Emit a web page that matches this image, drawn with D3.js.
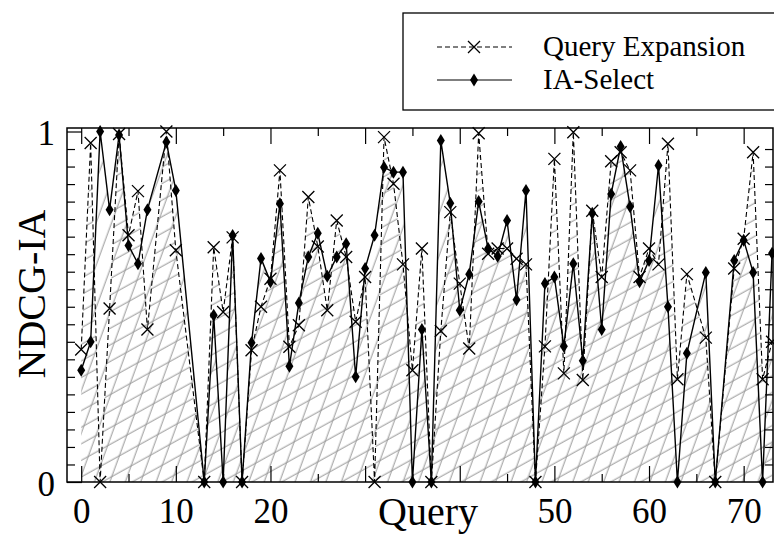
<!DOCTYPE html>
<html>
<head>
<meta charset="utf-8">
<script src="https://cdn.jsdelivr.net/npm/d3@7"></script>
<style>
  body { margin: 0; background: #fff; }
  svg { display: block; }
  text { font-family: "Liberation Serif", serif; fill: #000; }
</style>
</head>
<body>
<svg id="chart" width="774" height="536"></svg>
<script>
// query ids present in the run (some ids have no result)
const queries = [0, 1, 2, 3, 4, 5, 6, 7, 9, 10, 13, 14, 15, 16, 17, 18, 19, 20,
  21, 22, 23, 24, 25, 26, 27, 28, 29, 30, 31, 32, 33, 34, 35, 36, 37, 38, 39, 40,
  41, 42, 43, 44, 45, 46, 47, 48, 49, 50, 51, 52, 53, 54, 55, 56, 57, 58, 59, 60,
  61, 62, 63, 64, 66, 67, 69, 70, 71, 72, 73];

const queryExpansion = [0.378, 0.967, 0, 0.495, 0.993, 0.704, 0.83, 0.435, 1.0, 0.661,
  0, 0.67, 0.485, 0.698, 0, 0.376, 0.5, 0.58, 0.889, 0.386, 0.447, 0.813, 0.672, 0.49,
  0.746, 0.642, 0.457, 0.585, 0, 0.984, 0.851, 0.621, 0.319, 0.666, 0, 0.431, 0.77,
  0.566, 0.381, 0.995, 0.651, 0.666, 0.666, 0.637, 0.621, 0, 0.387, 0.922, 0.31, 0.998,
  0.291, 0.774, 0.585, 0.915, 0.941, 0.889, 0.585, 0.666, 0.621, 0.965, 0.293, 0.593,
  0.412, 0, 0.609, 0.694, 0.941, 0.293, 0.4];

const iaSelect = [0.319, 0.4, 1.0, 0.777, 0.99, 0.675, 0.623, 0.777, 0.97, 0.832,
  0, 0.476, 0, 0.703, 0, 0.397, 0.638, 0.571, 0.794, 0.33, 0.511, 0.642, 0.71, 0.587,
  0.642, 0.68, 0.3, 0.609, 0.704, 0.898, 0.884, 0.884, 0, 0.435, 0, 0.974, 0.795,
  0.49, 0.593, 0.8, 0.666, 0.644, 0.746, 0.52, 0.832, 0, 0.566, 0.585, 0.387, 0.623,
  0.346, 0.767, 0.435, 0.822, 0.957, 0.785, 0.571, 0.632, 0.903, 0.5, 0, 0.367,
  0.598, 0, 0.632, 0.69, 0.598, 0, 0.653];

const xMajorTicks = [0, 10, 20, 30, 40, 50, 60, 70];
const xLabelHidden = [30, 40]; // covered by the axis title
const yMajorTicks = [0, 1];

const svg = d3.select("#chart");

const plotLeft = 67, plotRight = 773, plotTop = 128, plotBottom = 482;

const x = d3.scaleLinear().domain([-1.5, 73.1]).range([plotLeft, plotRight]);
const y = d3.scaleLinear().domain([0, 1.01]).range([plotBottom, plotTop]);

const qeData = queries.map((q, i) => ({ q: q, v: queryExpansion[i] }));
const iaData = queries.map((q, i) => ({ q: q, v: iaSelect[i] }));

// hatch patterns
const defs = svg.append("defs");
function hatch(id, angle) {
  const p = defs.append("pattern")
    .attr("id", id)
    .attr("patternUnits", "userSpaceOnUse")
    .attr("width", 14.5)
    .attr("height", 14.5)
    .attr("patternTransform", `rotate(${angle})`);
  p.append("line")
    .attr("x1", -1).attr("x2", 16)
    .attr("y1", 7).attr("y2", 7)
    .attr("stroke", "#969696")
    .attr("stroke-width", 1);
}
hatch("hatchShallow", -29);
hatch("hatchSteep", -70);

defs.append("clipPath").attr("id", "plotClip")
  .append("rect")
  .attr("x", plotLeft).attr("y", plotTop)
  .attr("width", plotRight - plotLeft).attr("height", plotBottom - plotTop);

const area = d3.area()
  .x(d => x(d.q))
  .y0(y(0))
  .y1(d => y(d.v));

const line = d3.line()
  .x(d => x(d.q))
  .y(d => y(d.v));

const plot = svg.append("g").attr("clip-path", "url(#plotClip)");

plot.append("path")
  .datum(qeData)
  .attr("d", area)
  .attr("fill", "url(#hatchShallow)");

plot.append("path")
  .datum(iaData)
  .attr("d", area)
  .attr("fill", "url(#hatchSteep)");

// axes (ticks point inward)
function noDomain(g) {
  g.select(".domain").remove();
  g.selectAll("line").attr("stroke", "#000").attr("stroke-width", 1.2);
}

svg.append("g")
  .attr("transform", `translate(0,${plotBottom})`)
  .call(d3.axisBottom(x).tickValues(xMajorTicks).tickSize(-16).tickPadding(16)
    .tickFormat(d => xLabelHidden.includes(d) ? "" : d))
  .call(noDomain)
  .call(g => g.selectAll("text")
    .attr("font-family", "Liberation Serif, serif")
    .attr("font-size", 35).attr("fill", "#000"));

svg.append("g")
  .attr("transform", `translate(0,${plotBottom})`)
  .call(d3.axisBottom(x).tickValues(d3.range(5, 75, 10)).tickSize(-8).tickFormat(""))
  .call(noDomain);

svg.append("g")
  .attr("transform", `translate(0,${plotTop})`)
  .call(d3.axisTop(x).tickValues(xMajorTicks).tickSize(-16).tickFormat(""))
  .call(noDomain);

svg.append("g")
  .attr("transform", `translate(0,${plotTop})`)
  .call(d3.axisTop(x).tickValues(d3.range(5, 75, 10)).tickSize(-8).tickFormat(""))
  .call(noDomain);

svg.append("g")
  .attr("transform", `translate(${plotLeft},0)`)
  .call(d3.axisLeft(y).tickValues(yMajorTicks).tickSize(-15).tickPadding(12)
    .tickFormat(d3.format("d")))
  .call(noDomain)
  .call(g => g.selectAll("text")
    .attr("font-family", "Liberation Serif, serif")
    .attr("font-size", 35).attr("fill", "#000").attr("dy", "0.38em"));

svg.append("g")
  .attr("transform", `translate(${plotLeft},0)`)
  .call(d3.axisLeft(y).tickValues(d3.range(1, 20).map(k => k * 0.05)).tickSize(-8).tickFormat(""))
  .call(noDomain);

svg.append("g")
  .attr("transform", `translate(${plotRight},0)`)
  .call(d3.axisRight(y).tickValues(d3.range(1, 20).map(k => k * 0.05)).tickSize(-8).tickFormat(""))
  .call(noDomain);

// frame
svg.append("rect")
  .attr("x", plotLeft).attr("y", plotTop)
  .attr("width", plotRight - plotLeft).attr("height", plotBottom - plotTop)
  .attr("fill", "none")
  .attr("stroke", "#000")
  .attr("stroke-width", 1.5);

// series lines
svg.append("path")
  .datum(qeData)
  .attr("d", line)
  .attr("fill", "none")
  .attr("stroke", "#000")
  .attr("stroke-width", 1.1)
  .attr("stroke-dasharray", "5,3");

svg.append("path")
  .datum(iaData)
  .attr("d", line)
  .attr("fill", "none")
  .attr("stroke", "#000")
  .attr("stroke-width", 1.4);

// markers
const cross = "M-6,-6L6,6M-6,6L6,-6";
const diamond = "M0,-6.5L4,0L0,6.5L-4,0Z";

svg.append("g").selectAll("path")
  .data(qeData)
  .join("path")
  .attr("transform", d => `translate(${x(d.q)},${y(d.v)})`)
  .attr("d", cross)
  .attr("stroke", "#000")
  .attr("stroke-width", 1.3)
  .attr("fill", "none");

svg.append("g").selectAll("path")
  .data(iaData)
  .join("path")
  .attr("transform", d => `translate(${x(d.q)},${y(d.v)})`)
  .attr("d", diamond)
  .attr("fill", "#000");

// axis titles
svg.append("text")
  .attr("x", 428)
  .attr("y", 525)
  .attr("text-anchor", "middle")
  .attr("font-size", 40)
  .text("Query");

svg.append("text")
  .attr("transform", "translate(45,294) rotate(-90)")
  .attr("text-anchor", "middle")
  .attr("font-size", 40)
  .text("NDCG-IA");

// legend
const legend = svg.append("g");
legend.append("rect")
  .attr("x", 403).attr("y", 13)
  .attr("width", 420).attr("height", 97)
  .attr("fill", "#fff")
  .attr("stroke", "#000")
  .attr("stroke-width", 1.3);

const legendRows = [
  { name: "Query Expansion", dash: "5,3", marker: cross, filled: false, ly: 47 },
  { name: "IA-Select", dash: null, marker: diamond, filled: true, ly: 80 }
];

legendRows.forEach(r => {
  legend.append("line")
    .attr("x1", 437).attr("x2", 512)
    .attr("y1", r.ly).attr("y2", r.ly)
    .attr("stroke", "#000")
    .attr("stroke-width", 1.1)
    .attr("stroke-dasharray", r.dash);
  legend.append("path")
    .attr("transform", `translate(474,${r.ly})`)
    .attr("d", r.marker)
    .attr("fill", r.filled ? "#000" : "none")
    .attr("stroke", r.filled ? "none" : "#000")
    .attr("stroke-width", 1.3);
  legend.append("text")
    .attr("x", 543)
    .attr("y", r.ly + 9)
    .attr("font-size", 29)
    .text(r.name);
});
</script>
</body>
</html>
